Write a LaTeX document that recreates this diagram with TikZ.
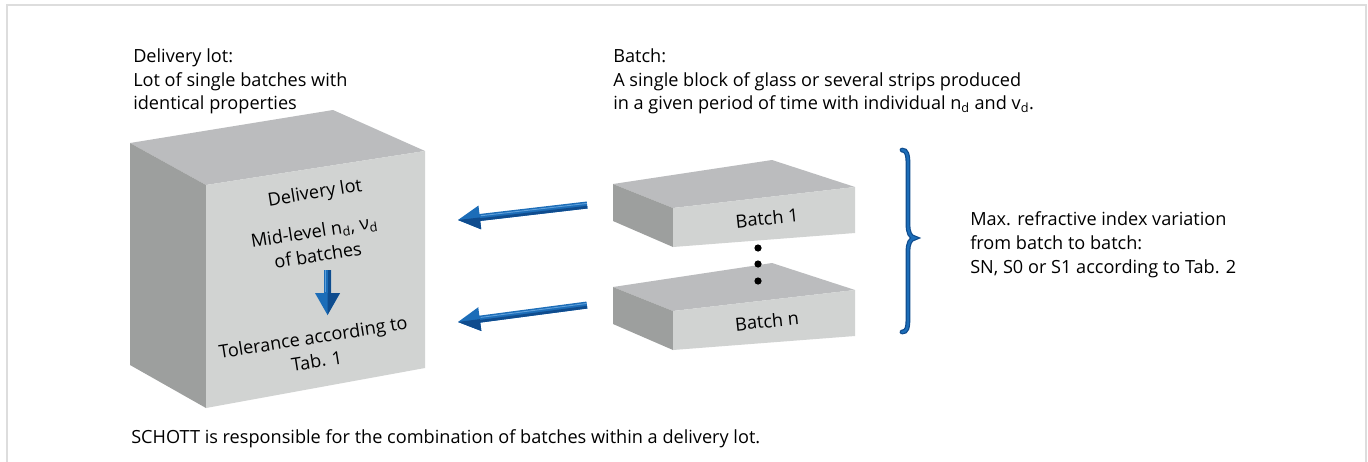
\documentclass[tikz,border=0pt]{standalone}
\usepackage{fontspec}
\setmainfont{Open Sans}
\usetikzlibrary{arrows.meta}
\definecolor{topc}{HTML}{BBBCBE}
\definecolor{leftc}{HTML}{9D9F9E}
\definecolor{frontc}{HTML}{D1D3D2}
\definecolor{blueM}{HTML}{1C6DB8}
\definecolor{blueD}{HTML}{0F4C8E}
\definecolor{blueL}{HTML}{5E9FDA}
\definecolor{framec}{HTML}{DDDDDD}
\newcommand\tdarrow[4]{% tip, angle, length, head half width
\begin{scope}[shift={(#1)}, rotate=#2]
\fill[blueM] (0,0) -- (22,-#4) -- (22,-3.5) -- (#3,-3.5) -- (#3,3.5) -- (22,3.5) -- (22,#4) -- cycle;
\fill[blueD] (0,0) -- (22,#4) -- (22,0) -- cycle;
\fill[blueD] (22,0.8) rectangle (#3,3.5);
\draw[blueL, line width=0.7pt] (23,-1.6) -- (#3,-1.6);
\end{scope}}
\begin{document}
\begin{tikzpicture}[x=0.75pt,y=-0.75pt,
  txt/.style={font=\fontsize{13.6}{18}\selectfont, inner sep=0pt, text=black},
  box/.style={font=\fontsize{13.6}{18}\selectfont, inner sep=0pt, text=black, align=center}]
\useasboundingbox (0,0) rectangle (1368,461);
\draw[framec, line width=1.5pt] (6.5,463) -- (6.5,4.5) -- (1365.5,4.5) -- (1365.5,463);

% top texts
\node[txt, anchor=base west] (dl1) at (133,62.5) {Delivery lot:};
\node[txt, anchor=base west] (dl2) at (133,86) {Lot of single batches with};
\node[txt, anchor=base west] (dl3) at (133,109.5) {identical properties};
\node[txt, anchor=base west] (bt1) at (613,62.5) {Batch:};
\node[txt, anchor=base west] (bt2) at (613,86) {A single block of glass or several strips produced};
\node[txt, anchor=base west] (bt3) at (613,109.5) {in a given period of time with individual n\textsubscript{d} and v\textsubscript{d}.};

% big cube
\fill[topc] (130,143) -- (333,110) -- (425,151) -- (206,185) -- cycle;
\fill[leftc] (130,143) -- (206,185) -- (206,408) -- (130,365) -- cycle;
\fill[frontc] (206,185) -- (425,151) -- (425,368) -- (206,408) -- cycle;

\node[box, rotate=9] (c1) at (315,194) {Delivery lot};
\node[box, rotate=9] (c2) at (316,243) {Mid-level n\textsubscript{d}, ν\textsubscript{d}\\of batches};
\node[box, rotate=9] (c4) at (315,349) {Tolerance according to\\Tab. 1};

\coordinate (dtip) at (327.5,315);
\tdarrow{dtip}{90}{45}{12.5}

% slabs
\foreach \dy/\lab/\nm in {0/Batch 1/s1, 103/Batch n/s2}{
  \begin{scope}[shift={(0,\dy)}]
  \fill[topc] (613,184) -- (772,160) -- (855,187) -- (673,208) -- cycle;
  \fill[leftc] (613,184) -- (673,208) -- (673,247) -- (613,221) -- cycle;
  \fill[frontc] (673,208) -- (855,187) -- (855,233) -- (673,247) -- cycle;
  \node[box, rotate=6] (\nm) at (767,218) {\lab};
  \end{scope}
}

% dots
\foreach \yy/\nm in {248/d1, 264/d2, 281/d3}{
  \fill[black] (758,\yy) circle[radius=3.6] coordinate (\nm);
}

% blue arrows
\coordinate (a1) at (458,220);
\coordinate (a2) at (458,322);
\tdarrow{a1}{6.63}{130}{12}
\tdarrow{a2}{7.5}{130}{12}

% brace
\draw[blueD, line width=3.6pt, line cap=round]
  (902,150) .. controls (907,150) and (908,155) .. (908,165) -- (908,224)
  .. controls (908,233) and (910,237) .. (915,238)
  .. controls (910,239) and (908,243) .. (908,252) -- (908,317)
  .. controls (908,328) and (907,332) .. (902,332);
\draw[blueM, line width=1.8pt, line cap=round]
  (902,150) .. controls (907,150) and (908,155) .. (908,165) -- (908,224)
  .. controls (908,233) and (910,237) .. (915,238)
  .. controls (910,239) and (908,243) .. (908,252) -- (908,317)
  .. controls (908,328) and (907,332) .. (902,332);

\node[txt, anchor=base west] (m1) at (970,225) {Max. refractive index variation};
\node[txt, anchor=base west] (m2) at (970,249) {from batch to batch:};
\node[txt, anchor=base west] (m3) at (970,273) {SN, S0 or S1 according to Tab. 2};

\node[txt, anchor=base west] (sch) at (131,443) {SCHOTT is responsible for the combination of batches within a delivery lot.};
\end{tikzpicture}
\end{document}
